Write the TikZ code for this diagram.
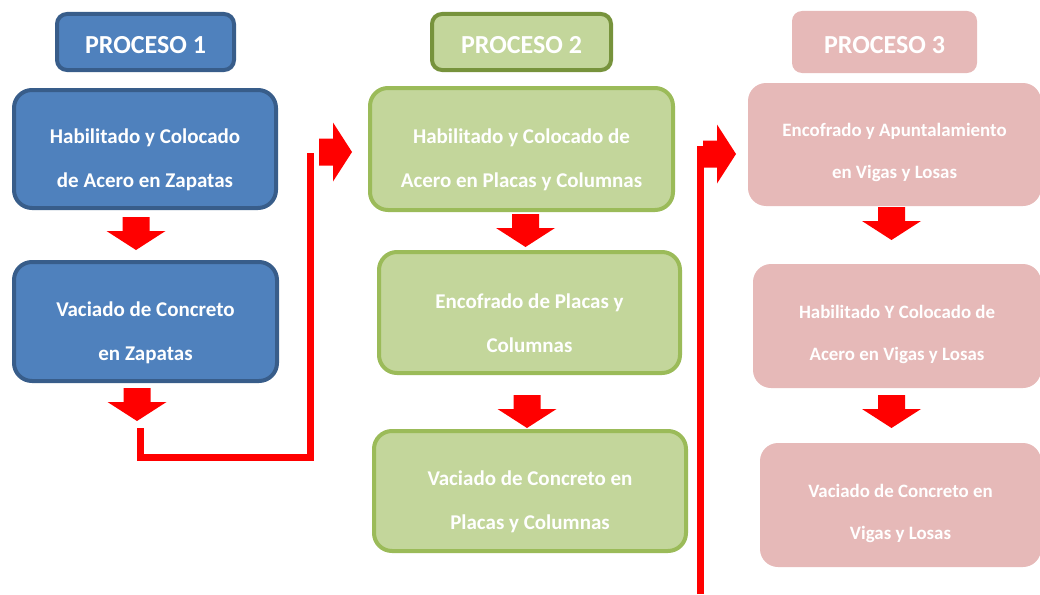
\documentclass[tikz,border=0pt]{standalone}
\usepackage{fontspec}
\setmainfont{Carlito}
\usepackage{tikz}
\usetikzlibrary{positioning}
\definecolor{blueFill}{HTML}{4F81BD}
\definecolor{blueLine}{HTML}{385D8A}
\definecolor{greenFill}{HTML}{C3D69B}
\definecolor{greenLine}{HTML}{9BBB59}
\definecolor{greenDark}{HTML}{77933C}
\definecolor{pinkFill}{HTML}{E6B9B8}

\begin{document}
\begin{tikzpicture}[x=1pt, y=-1pt,
  hdr/.style={rectangle, rounded corners=10pt, line width=4pt, text=white, inner sep=0pt,
    font=\fontsize{26}{30}\selectfont\bfseries, text height=24pt, text depth=0pt},
  bx/.style={rectangle, rounded corners=18pt, line width=4pt, text=white, inner sep=0pt, align=center,
    font=\fontsize{21}{44}\selectfont\bfseries, text height=81pt},
  bxs/.style={bx, font=\fontsize{18.9}{42}\selectfont\bfseries, text height=72pt},
  redline/.style={draw=red, line width=7pt},
  dnarr/.pic={\fill[red] (-13.5,0) -- (13.5,0) -- (13.5,14) -- (29.5,14) -- (0,33) -- (-29.5,14) -- (-13.5,14) -- cycle;}]
\useasboundingbox (0,0) rectangle (1040,594);

% proceso 1
\node[hdr, draw=blueLine, fill=blueFill, minimum width=177pt, minimum height=56pt] (h1) at (145.5,42) {PROCESO 1};
\node[bx, draw=blueLine, fill=blueFill, minimum width=262pt, minimum height=118pt] (p1a) at (145,149) {Habilitado y Colocado\\de Acero en Zapatas};
\node[bx, draw=blueLine, fill=blueFill, minimum width=263pt, minimum height=119pt] (p1b) at (145.5,321.5) {Vaciado de Concreto\\en Zapatas};

% proceso 2
\node[hdr, draw=greenDark, fill=greenFill, minimum width=179pt, minimum height=56pt] (h2) at (521.5,42) {PROCESO 2};
\node[bx, draw=greenLine, fill=greenFill, minimum width=303pt, minimum height=122pt] (p2a) at (521.5,149) {Habilitado y Colocado de\\Acero en Placas y Columnas};
\node[bx, draw=greenLine, fill=greenFill, minimum width=301pt, minimum height=121pt] (p2b) at (529.5,312.5) {Encofrado de Placas y\\Columnas};
\node[bx, draw=greenLine, fill=greenFill, minimum width=312pt, minimum height=120pt] (p2c) at (530,491) {Vaciado de Concreto en\\Placas y Columnas};

% proceso 3
\node[hdr, fill=pinkFill, minimum width=185pt, minimum height=62pt] (h3) at (884.5,42) {PROCESO 3};
\node[bxs, fill=pinkFill, minimum width=293pt, minimum height=123pt] (p3a) at (894.5,144.5) {Encofrado y Apuntalamiento\\en Vigas y Losas};
\node[bxs, fill=pinkFill, minimum width=288pt, minimum height=124pt] (p3b) at (897,326) {Habilitado Y Colocado de\\Acero en Vigas y Losas};
\node[bxs, fill=pinkFill, minimum width=281pt, minimum height=124pt] (p3c) at (900.5,505) {Vaciado de Concreto en\\Vigas y Losas};

% flechas
\foreach \x/\y in {136/217, 137/388, 525.5/214, 527/395, 891.5/207, 891.5/395}{
  \pic at (\x,\y) {dnarr};
}
\pic[rotate=90] at (319,152) {dnarr};
\pic[rotate=90] at (703,154) {dnarr};

% lineas de paso
\coordinate (l1s) at (140,428);
\coordinate (l1e) at (310,153);
\coordinate (l2s) at (700,594);
\coordinate (l2e) at (700,146);
\draw[redline] (l1s) -- ++(0,29) -| (l1e);
\draw[redline] (l2s) -- (l2e);

\end{tikzpicture}
\end{document}
